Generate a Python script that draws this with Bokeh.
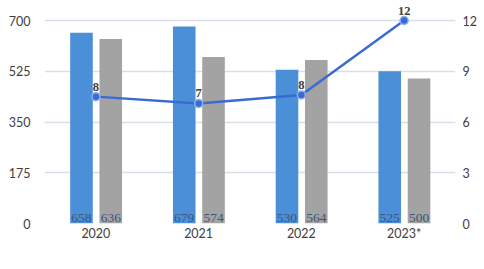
from bokeh.plotting import figure
from bokeh.models import (ColumnDataSource, Range1d, LinearAxis, FixedTicker,
                          LabelSet, Legend, LegendItem, FactorRange)
from bokeh.transform import dodge
from bokeh.embed import file_html
from bokeh.resources import INLINE

years = ["2020", "2021", "2022", "2023*"]
nouvelles = [658, 679, 530, 525]
terminees = [636, 574, 564, 500]
duree = [7.5, 7.1, 7.6, 12]
duree_labels = ["8", "7", "8", "12"]
left_ticks = [0, 175, 350, 525, 700]
right_ticks = [0, 3, 6, 9, 12]

FONT = "Lato"
BOLD_FONT = "Open Sans"
BLUE = "#4a8fd8"
GREY = "#a3a3a3"
LINE = "#3a6bd2"

src = ColumnDataSource(dict(
    year=years, nouvelles=nouvelles, terminees=terminees,
    duree=duree, dl=duree_labels,
    nl=[str(v) for v in nouvelles], tl=[str(v) for v in terminees],
    zero=[0] * len(years),
))

# frame spans y=0..223 so the "12" label fits; 700 / 12 sit at y=20
TOP_FRAC = 223 / 203
p = figure(x_range=FactorRange(*years), y_range=Range1d(0, 700 * TOP_FRAC),
           frame_width=411, frame_height=223, output_backend="svg", toolbar_location=None,
           min_border_left=44, min_border_right=29, min_border_top=0,
           min_border_bottom=0)
p.extra_y_ranges = {"dur": Range1d(0, 12 * TOP_FRAC)}
p.outline_line_color = None
p.background_fill_color = "white"

r1 = p.vbar(x=dodge("year", -0.14, range=p.x_range), top="nouvelles", width=0.22,
            source=src, fill_color=BLUE, line_color=None)
r2 = p.vbar(x=dodge("year", 0.145, range=p.x_range), top="terminees", width=0.22,
            source=src, fill_color=GREY, line_color=None)

r3 = p.line(x="year", y="duree", source=src, y_range_name="dur",
            line_color=LINE, line_width=2.5)
r4 = p.scatter(x="year", y="duree", source=src, y_range_name="dur",
               size=8, fill_color=LINE, line_color="#8fb0ee", line_width=1.5)

for col, off in (("nl", -0.14), ("tl", 0.145)):
    p.add_layout(LabelSet(x=dodge("year", off, range=p.x_range), y="zero", text=col,
                          source=src, text_align="center", text_baseline="bottom",
                          y_offset=2, text_font=FONT, text_font_size="13.5px",
                          text_color="#3d5578"))

p.add_layout(LabelSet(x="year", y="duree", text="dl", source=src, y_range_name="dur",
                      text_align="center", text_baseline="bottom", y_offset=6,
                      text_font=BOLD_FONT, text_font_size="12.5px", text_font_style="bold",
                      text_color="#404040"))

# axes
p.yaxis.ticker = FixedTicker(ticks=left_ticks)
ax_r = LinearAxis(y_range_name="dur", ticker=FixedTicker(ticks=right_ticks))
p.add_layout(ax_r, "right")
for ax in (p.yaxis[0], ax_r, p.xaxis[0]):
    ax.axis_line_color = None
    ax.major_tick_line_color = None
    ax.minor_tick_line_color = None
    ax.major_tick_out = 0
    ax.major_tick_in = 0
    ax.minor_tick_out = 0
    ax.minor_tick_in = 0
    ax.major_label_text_font = FONT
    ax.major_label_text_font_size = "12.5px"
    ax.major_label_text_color = "#404040"
p.yaxis[0].major_label_standoff = 14
ax_r.major_label_standoff = 7
p.xaxis.major_label_standoff = 2
p.xaxis.axis_label = None
p.xaxis.axis_label_standoff = 0
p.xaxis.axis_label_text_font_size = "0px"
p.xgrid.grid_line_color = None
p.ygrid.grid_line_color = "#d9dfe9"
p.ygrid.grid_line_width = 1.5

legend = Legend(items=[
    LegendItem(label="Affaires nouvelles", renderers=[r1]),
    LegendItem(label="Affaires terminées", renderers=[r2]),
    LegendItem(label="Durée moyenne en mois", renderers=[r3, r4]),
], location="top_center", orientation="horizontal", border_line_color=None,
    background_fill_alpha=0, padding=0, margin=0, spacing=18,
    glyph_width=10, glyph_height=10, label_standoff=6, label_height=10,
    label_text_font=FONT, label_text_font_size="12px", label_text_color="#404040")
p.add_layout(legend, "below")

open("out.html", "w").write(file_html(p, INLINE))
